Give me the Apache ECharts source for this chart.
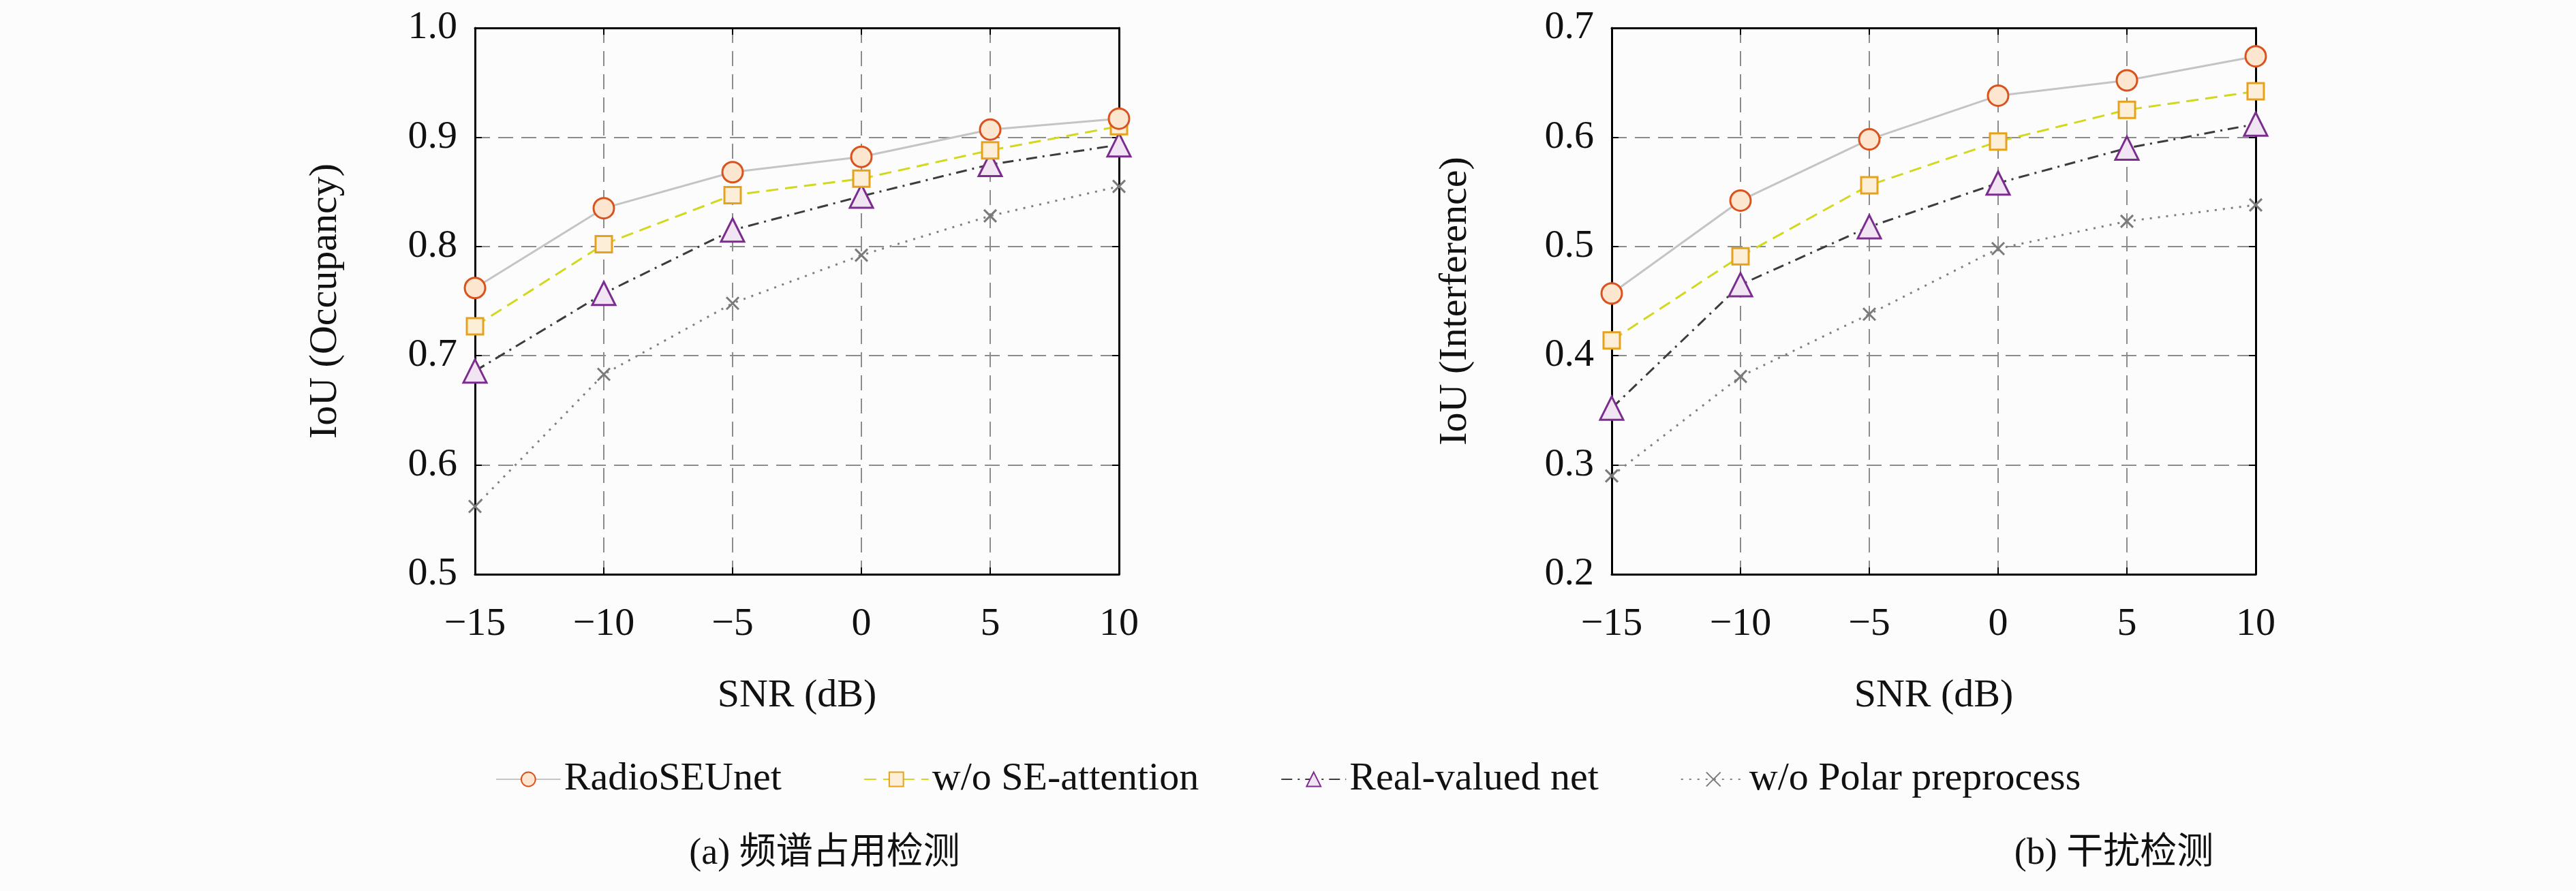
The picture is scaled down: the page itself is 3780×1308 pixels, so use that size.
<!DOCTYPE html>
<html>
<head>
<meta charset="utf-8">
<script src="https://cdn.jsdelivr.net/npm/echarts@6/dist/echarts.min.js"></script>
<style>html,body{margin:0;background:#fcfcfc}#main{width:3780px;height:1308px}</style>
</head>
<body>
<div id="main"></div>
<script>
var snr = [-15, -10, -5, 0, 5, 10];
var names = ["RadioSEUnet", "w/o SE-attention", "Real-valued net", "w/o Polar preprocess"];

// (a) occupancy
var occRadio = [0.762, 0.835, 0.868, 0.882, 0.907, 0.917];
var occSE = [0.727, 0.802, 0.847, 0.862, 0.888, 0.910];
var occReal = [0.686, 0.757, 0.815, 0.846, 0.875, 0.893];
var occPolar = [0.562, 0.683, 0.748, 0.792, 0.828, 0.855];

// (b) interference
var intRadio = [0.457, 0.542, 0.598, 0.638, 0.652, 0.674];
var intSE = [0.414, 0.491, 0.556, 0.596, 0.625, 0.642];
var intReal = [0.352, 0.465, 0.518, 0.558, 0.590, 0.612];
var intPolar = [0.290, 0.381, 0.438, 0.498, 0.523, 0.538];

var font = "Liberation Serif";
var cross = "path://M0,0 L10,10 M10,0 L0,10";

function pairs(ys) {
  return snr.map(function (x, i) { return [x, ys[i]]; });
}

var styles = [
  { symbol: "circle", size: 30, line: { color: "#c4c4c4", width: 3, type: "solid" },
    item: { color: "#fde6cf", borderColor: "#d9531e", borderWidth: 3 } },
  { symbol: "rect", size: 24, line: { color: "#d2d81c", width: 3, type: [18, 10] },
    item: { color: "#fdeed8", borderColor: "#e6a21a", borderWidth: 3 } },
  { symbol: "triangle", size: 34, line: { color: "#3c3c3c", width: 3, type: [16, 8, 3, 8] },
    item: { color: "#f1e4f3", borderColor: "#7b2d8e", borderWidth: 3 } },
  { symbol: cross, size: 18, line: { color: "#808080", width: 3, type: [3, 9] },
    item: { color: "none", borderColor: "#7a7a7a", borderWidth: 3 } }
];

function mkSeries(sets, idx) {
  return sets.map(function (ys, k) {
    var s = styles[k];
    return {
      name: names[k], type: "line", xAxisIndex: idx, yAxisIndex: idx,
      data: pairs(ys), symbol: s.symbol, symbolSize: s.size,
      showAllSymbol: true, lineStyle: s.line, itemStyle: s.item, z: 10 - k
    };
  });
}

var gridLine = { show: true, lineStyle: { color: "#8c8c8c", width: 2, type: [22, 12] } };
var tick = { show: true, inside: true, length: 10, lineStyle: { color: "#000", width: 2 } };
var border = { show: true, onZero: false, lineStyle: { color: "#000", width: 3 } };

function xAx(idx) {
  return {
    gridIndex: idx, type: "value", min: -15, max: 10, interval: 5,
    name: "SNR (dB)", nameLocation: "middle", nameGap: 150,
    nameTextStyle: { fontFamily: font, fontSize: 58, color: "#111" },
    axisLine: border, axisTick: tick,
    axisLabel: { fontFamily: font, fontSize: 58, color: "#111", margin: 45,
      formatter: function (v) { return v < 0 ? "\u2212" + (-v) : String(v); } },
    splitLine: gridLine
  };
}

function yAx(idx, min, max, name, gap) {
  return {
    gridIndex: idx, type: "value", min: min, max: max, interval: 0.1,
    name: name, nameLocation: "middle", nameGap: gap,
    nameTextStyle: { fontFamily: font, fontSize: 58, color: "#111" },
    axisLine: border, axisTick: tick,
    axisLabel: { fontFamily: font, fontSize: 58, color: "#111", margin: 26,
      formatter: function (v) { return v.toFixed(1); } },
    splitLine: gridLine
  };
}

// mirror axes that close the box on top and right
function xTop(idx) {
  return { gridIndex: idx, type: "value", position: "top", min: -15, max: 10, interval: 5,
    axisLine: border, axisTick: tick, axisLabel: { show: false }, splitLine: { show: false } };
}
function yRight(idx, min, max) {
  return { gridIndex: idx, type: "value", position: "right", min: min, max: max, interval: 0.1,
    axisLine: border, axisTick: tick, axisLabel: { show: false }, splitLine: { show: false } };
}

var chart = echarts.init(document.getElementById("main"));
chart.setOption({
  backgroundColor: "#fcfcfc",
  animation: false,
  title: [
    { text: "(a) 频谱占用检测", left: 1205, top: 1222, textAlign: "center",
      textStyle: { fontFamily: "Liberation Serif, Noto Sans CJK SC", fontSize: 54, fontWeight: "normal", color: "#111" } },
    { text: "(b) 干扰检测", left: 3097, top: 1222, textAlign: "center",
      textStyle: { fontFamily: "Liberation Serif, Noto Sans CJK SC", fontSize: 54, fontWeight: "normal", color: "#111" } }
  ],
  legend: {
    data: names, top: 1110, left: "center", itemGap: 120, itemWidth: 95, itemHeight: 26,
    textStyle: { fontFamily: font, fontSize: 58, color: "#111" }
  },
  grid: [
    { left: 697, top: 41, width: 945, height: 802 },
    { left: 2365, top: 41, width: 945, height: 802 }
  ],
  xAxis: [xAx(0), xAx(1), xTop(0), xTop(1)],
  yAxis: [yAx(0, 0.5, 1.0, "IoU (Occupancy)", 190), yAx(1, 0.2, 0.7, "IoU (Interference)", 200),
    yRight(0, 0.5, 1.0), yRight(1, 0.2, 0.7)],
  series: mkSeries([occRadio, occSE, occReal, occPolar], 0)
    .concat(mkSeries([intRadio, intSE, intReal, intPolar], 1))
});
</script>
</body>
</html>
